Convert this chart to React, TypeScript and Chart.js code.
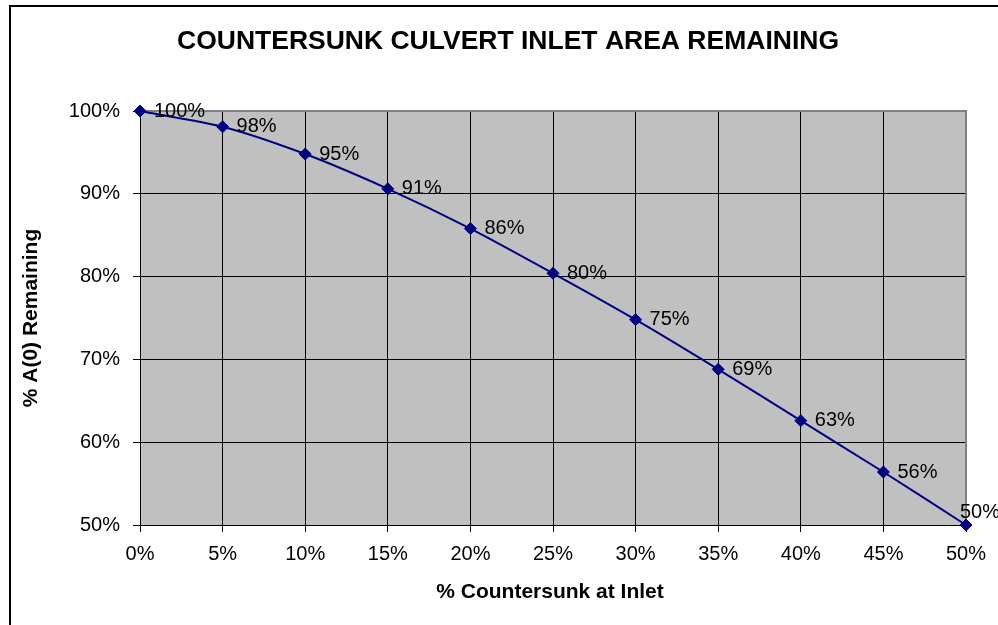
import React, { useEffect, useRef } from "react";
import { Chart, registerables } from "chart.js";

Chart.register(...registerables);

const countersunk = [0, 5, 10, 15, 20, 25, 30, 35, 40, 45, 50];
const remaining = [100, 98.1, 94.8, 90.6, 85.8, 80.4, 74.8, 68.8, 62.6, 56.4, 50];
const titleText = "COUNTERSUNK CULVERT INLET AREA REMAINING";
const xTitle = "% Countersunk at Inlet";
const yTitle = "% A(0) Remaining";

const FONT = '"Liberation Sans", Arial, Helvetica, sans-serif';

const decorPlugin = {
  id: "decor",
  beforeDraw(chart: any) {
    const { ctx, chartArea } = chart;
    ctx.save();
    ctx.fillStyle = "#ffffff";
    ctx.fillRect(0, 0, chart.width, chart.height);
    ctx.fillStyle = "#c0c0c0";
    ctx.fillRect(chartArea.left, chartArea.top, chartArea.right - chartArea.left, chartArea.bottom - chartArea.top);
    ctx.restore();
  },
  beforeDatasetsDraw(chart: any) {
    const { ctx, chartArea } = chart;
    ctx.save();
    ctx.strokeStyle = "#808080";
    ctx.lineWidth = 2;
    ctx.beginPath();
    ctx.moveTo(chartArea.left, chartArea.top);
    ctx.lineTo(chartArea.right, chartArea.top);
    ctx.lineTo(chartArea.right, chartArea.bottom);
    ctx.stroke();
    ctx.restore();
  },
  afterDraw(chart: any) {
    const { ctx } = chart;
    ctx.save();
    // outer border
    ctx.strokeStyle = "#000";
    ctx.lineWidth = 2;
    ctx.strokeRect(10, 6, 1000, 1000);
    // titles
    ctx.fillStyle = "#000";
    ctx.textAlign = "center";
    ctx.textBaseline = "middle";
    ctx.font = `bold 26.5px ${FONT}`;
    ctx.fillText(titleText, 508, 42);
    ctx.font = `bold 21px ${FONT}`;
    ctx.fillText(xTitle, 550, 592);
    ctx.save();
    ctx.translate(31, 318);
    ctx.rotate(-Math.PI / 2);
    ctx.fillText(yTitle, 0, 0);
    ctx.restore();
    // data labels
    const meta = chart.getDatasetMeta(0);
    ctx.font = `20px ${FONT}`;
    ctx.textAlign = "left";
    ctx.textBaseline = "middle";
    meta.data.forEach((pt: any, i: number) => {
      const label = Math.round(remaining[i]) + "%";
      let x = pt.x + 14;
      let y = pt.y;
      if (i === remaining.length - 1) {
        x = pt.x - 6;
        y = pt.y - 13;
      }
      ctx.fillText(label, x, y);
    });
    ctx.restore();
  },
};

export default function App() {
  const ref = useRef<HTMLCanvasElement | null>(null);
  useEffect(() => {
    document.body.style.margin = "0";
    const canvas = ref.current!;
    const chart = new Chart(canvas, {
      type: "line",
      data: {
        datasets: [
          {
            data: countersunk.map((x, i) => ({ x, y: remaining[i] })),
            borderColor: "#000080",
            backgroundColor: "#000080",
            borderWidth: 2,
            pointStyle: "rectRot",
            pointRadius: 6,
            pointBorderWidth: 1,
            pointBorderColor: "#000080",
            pointBackgroundColor: "#000080",
            tension: 0.25,
            fill: false,
            clip: false,
          },
        ],
      },
      options: {
        animation: false,
        responsive: false,
        maintainAspectRatio: false,
        layout: { padding: { left: 0, top: 111, right: 32, bottom: 0 } },
        plugins: {
          legend: { display: false },
          title: { display: false },
          tooltip: { enabled: false },
        },
        scales: {
          x: {
            type: "linear",
            min: 0,
            max: 50,
            afterFit: (s: any) => {
              s.height = 100;
            },
            ticks: {
              stepSize: 5,
              color: "#000",
              padding: 10,
              font: { family: FONT, size: 20 },
              callback: (v: any) => v + "%",
              maxRotation: 0,
            },
            grid: { color: "#000", lineWidth: 1, tickLength: 7, drawTicks: true },
            border: { display: true, color: "#000", width: 1 },
          },
          y: {
            type: "linear",
            min: 50,
            max: 100,
            afterFit: (s: any) => {
              s.width = 140;
            },
            ticks: {
              stepSize: 10,
              color: "#000",
              padding: 13,
              font: { family: FONT, size: 20 },
              callback: (v: any) => v + "%",
            },
            grid: { color: "#000", lineWidth: 1, tickLength: 7, drawTicks: true },
            border: { display: true, color: "#000", width: 1 },
          },
        },
      },
      plugins: [decorPlugin],
    } as any);
    return () => chart.destroy();
  }, []);
  return <canvas ref={ref} width={998} height={625} style={{ display: "block" }} />;
}
